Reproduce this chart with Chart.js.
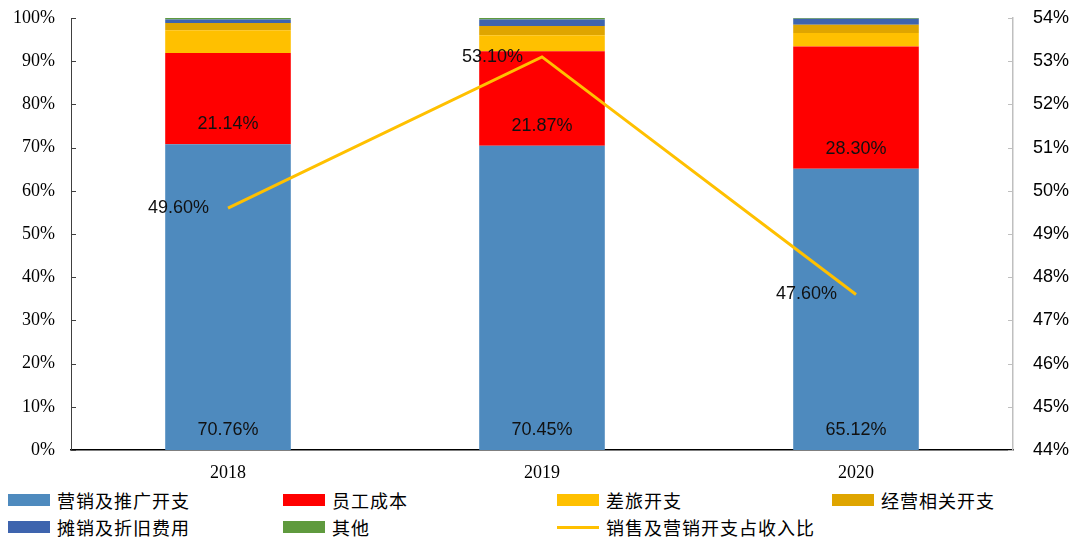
<!DOCTYPE html>
<html>
<head>
<meta charset="utf-8">
<script src="https://cdn.jsdelivr.net/npm/chart.js@4"></script>
<style>
  html, body { margin: 0; padding: 0; background: #fff; }
  #wrap { position: relative; width: 1080px; height: 548px; }
  #legend { position: absolute; left: 0; top: 488px; width: 1080px; }
  .item { position: absolute; display: flex; align-items: center; height: 24px;
          font-family: "Noto Sans CJK SC", sans-serif; font-size: 18px; letter-spacing: 1px; color: #000; }
  .box { width: 42px; height: 12px; margin-right: 7px; }
  .line { width: 42px; height: 3px; margin-right: 7px; }
</style>
</head>
<body>
<div id="wrap">
  <canvas id="chart" width="1080" height="480"></canvas>
  <div id="legend"></div>
</div>
<script>
// 数据
const years = ['2018', '2019', '2020'];
const marketing = [70.76, 70.45, 65.12];   // 营销及推广开支
const staff = [21.14, 21.87, 28.30];       // 员工成本
const travel = [5.25, 3.70, 3.10];         // 差旅开支
const operating = [1.70, 2.15, 1.90];      // 经营相关开支
const amortization = [0.80, 1.50, 1.40];   // 摊销及折旧费用
const others = [0.35, 0.33, 0.18];         // 其他
const ratio = [49.60, 53.10, 47.60];       // 销售及营销开支占收入比

const leftTicks = { min: 0, max: 100, step: 10 };
const rightTicks = { min: 44, max: 54, step: 1 };

const barSet = (label, data, color) => ({
    type: 'bar', label: label, data: data, backgroundColor: color,
    yAxisID: 'y', order: 1, barPercentage: 0.4, categoryPercentage: 1
});

// 数值标签 + 内侧刻度
const labelPlugin = {
    id: 'labels',
    afterDatasetsDraw(chart) {
        const ctx = chart.ctx;
        ctx.save();
        ctx.fillStyle = '#111';
        ctx.font = '18px "Liberation Sans", sans-serif';
        ctx.textBaseline = 'middle';
        [0, 1].forEach(i => {
            const meta = chart.getDatasetMeta(i);
            meta.data.forEach((bar, j) => {
                ctx.textAlign = 'center';
                ctx.fillText(chart.data.datasets[i].data[j].toFixed(2) + '%', bar.x, bar.base - 20);
            });
        });
        const lineMeta = chart.getDatasetMeta(6);
        lineMeta.data.forEach((pt, j) => {
            ctx.textAlign = 'right';
            ctx.fillText(ratio[j].toFixed(2) + '%', pt.x - 19, pt.y);
        });

        const y = chart.scales.y, y1 = chart.scales.y1;
        ctx.lineWidth = 1;
        ctx.strokeStyle = '#404040';
        y.ticks.forEach(t => {
            const p = Math.round(y.getPixelForValue(t.value)) + 0.5;
            ctx.beginPath(); ctx.moveTo(y.right, p); ctx.lineTo(y.right + 5, p); ctx.stroke();
        });
        ctx.strokeStyle = '#BFBFBF';
        y1.ticks.forEach(t => {
            const p = Math.round(y1.getPixelForValue(t.value)) + 0.5;
            ctx.beginPath(); ctx.moveTo(y1.left, p); ctx.lineTo(y1.left - 5, p); ctx.stroke();
        });
        ctx.restore();
    }
};

const fitY = w => s => { s.width = w; s.paddingTop = 0; s.paddingBottom = 0; };

const chart = new Chart(document.getElementById('chart').getContext('2d'), {
    data: {
        labels: years,
        datasets: [
            barSet('营销及推广开支', marketing, '#4E8ABE'),
            barSet('员工成本', staff, '#FF0000'),
            barSet('差旅开支', travel, '#FFC000'),
            barSet('经营相关开支', operating, '#DFA500'),
            barSet('摊销及折旧费用', amortization, '#3E64AE'),
            barSet('其他', others, '#5F9A3E'),
            {
                type: 'line', label: '销售及营销开支占收入比', data: ratio,
                borderColor: '#FFC000', borderWidth: 3, pointRadius: 0,
                yAxisID: 'y1', order: 0, tension: 0
            }
        ]
    },
    options: {
        responsive: false,
        animation: false,
        layout: { padding: { top: 18, left: 0, right: 0, bottom: 0 } },
        plugins: { legend: { display: false }, tooltip: { enabled: false } },
        scales: {
            x: {
                stacked: true,
                grid: { display: false, drawTicks: false },
                border: { color: '#000', width: 1.5 },
                ticks: { color: '#000', padding: 12, font: { family: '"Liberation Serif", serif', size: 18 } },
                afterFit: s => { s.height = 30; s.paddingLeft = 0; s.paddingRight = 0; }
            },
            y: {
                stacked: true, position: 'left',
                min: leftTicks.min, max: leftTicks.max,
                grid: { display: false, drawTicks: false },
                border: { color: '#404040', width: 1 },
                ticks: {
                    stepSize: leftTicks.step, color: '#000', padding: 16,
                    font: { family: '"Liberation Serif", serif', size: 18 },
                    callback: v => v + '%'
                },
                afterFit: fitY(71)
            },
            y1: {
                position: 'right',
                min: rightTicks.min, max: rightTicks.max,
                grid: { display: false, drawTicks: false },
                border: { color: '#BFBFBF', width: 1.5 },
                ticks: {
                    stepSize: rightTicks.step, color: '#000', padding: 20,
                    font: { family: '"Liberation Sans", sans-serif', size: 18 },
                    callback: v => v + '%'
                },
                afterFit: fitY(67)
            }
        }
    },
    plugins: [labelPlugin]
});

// 图例
const legendPos = [[8, 0], [283, 0], [557, 0], [832, 0], [8, 27], [283, 27], [557, 27]];
const legend = document.getElementById('legend');
chart.data.datasets.forEach((ds, i) => {
    const item = document.createElement('div');
    item.className = 'item';
    item.style.left = legendPos[i][0] + 'px';
    item.style.top = legendPos[i][1] + 'px';
    const mark = document.createElement('span');
    if (ds.type === 'line') {
        mark.className = 'line';
        mark.style.background = ds.borderColor;
    } else {
        mark.className = 'box';
        mark.style.background = ds.backgroundColor;
    }
    item.appendChild(mark);
    item.appendChild(document.createTextNode(ds.label));
    legend.appendChild(item);
});
</script>
</body>
</html>
